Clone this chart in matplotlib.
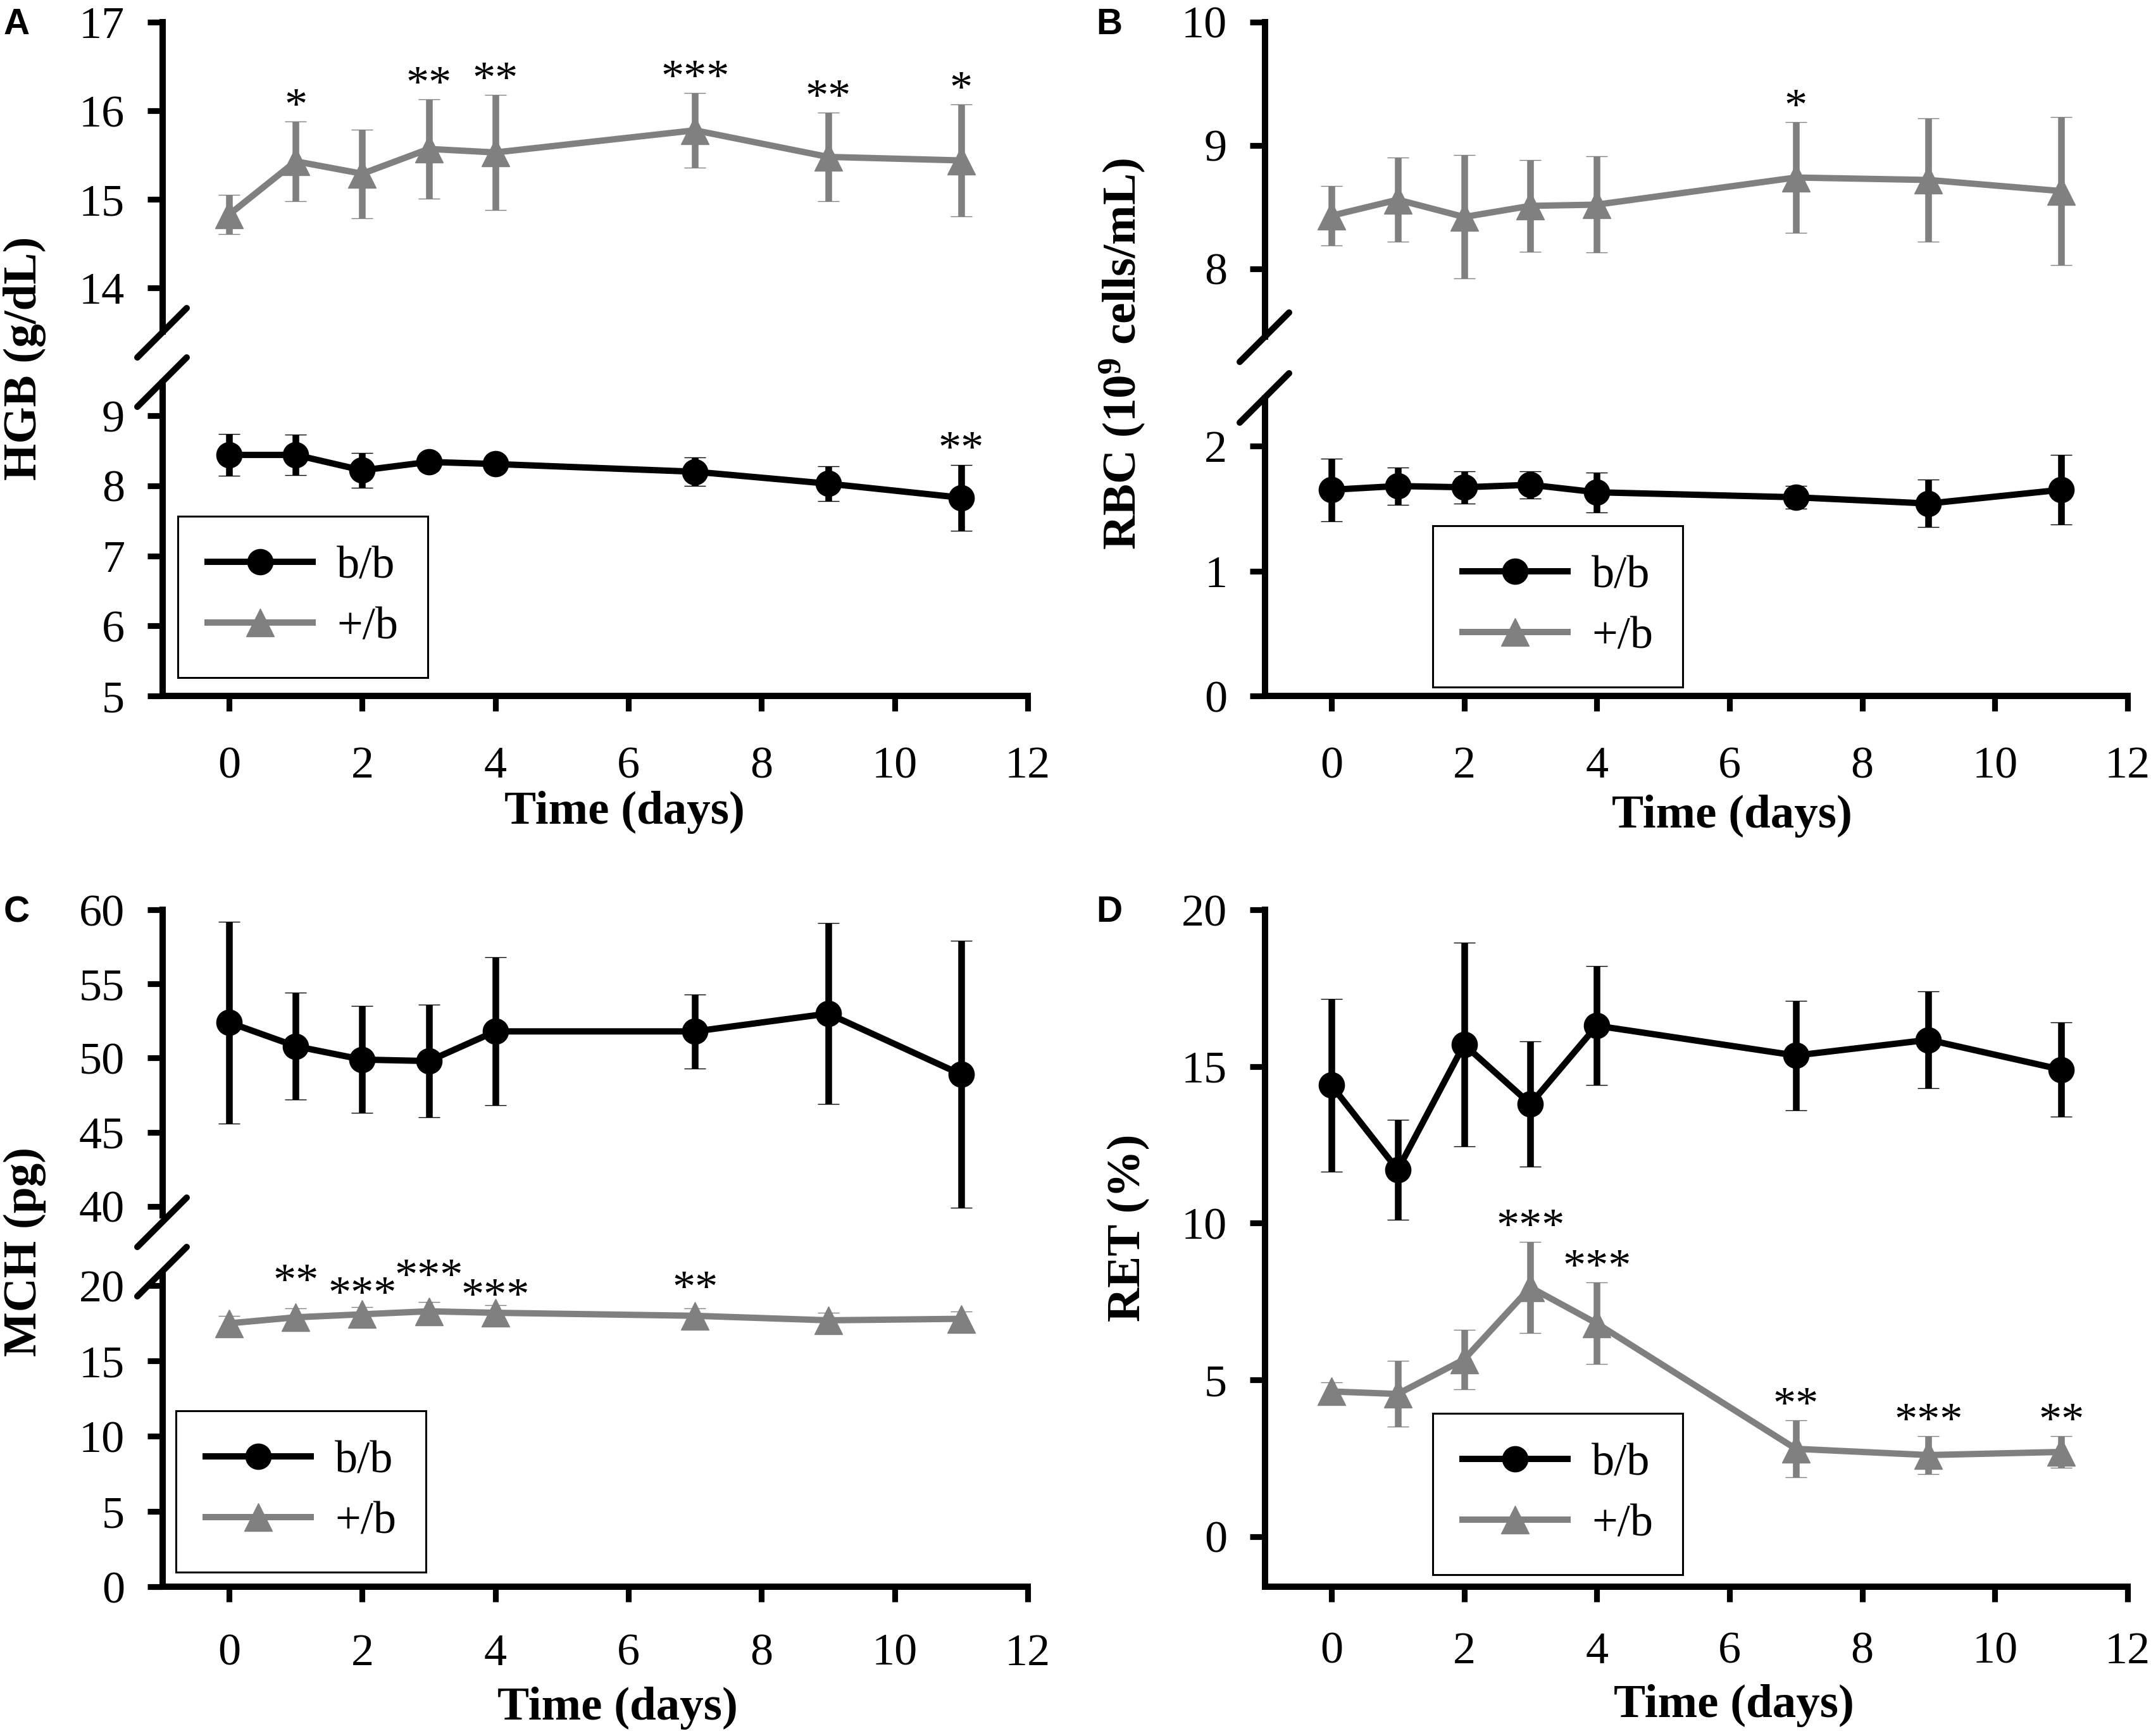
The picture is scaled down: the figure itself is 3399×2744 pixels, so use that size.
import matplotlib
matplotlib.use("Agg")
import matplotlib.pyplot as plt
from matplotlib.lines import Line2D

# ---------------- data ----------------
days = [0, 1, 2, 3, 4, 7, 9, 11]

hgb_bb = [8.44, 8.44, 8.22, 8.34, 8.31, 8.20, 8.03, 7.83]
hgb_bb_sd = [0.30, 0.29, 0.25, 0.05, 0.07, 0.20, 0.25, 0.47]
hgb_pb = [14.83, 15.43, 15.29, 15.57, 15.53, 15.78, 15.48, 15.44]
hgb_pb_sd = [0.22, 0.45, 0.50, 0.56, 0.65, 0.42, 0.50, 0.63]
hgb_bb_stars = ["", "", "", "", "", "", "", "**"]
hgb_pb_stars = ["", "*", "", "**", "**", "***", "**", "*"]

rbc_bb = [1.65, 1.68, 1.67, 1.69, 1.63, 1.59, 1.54, 1.65]
rbc_bb_sd = [0.25, 0.15, 0.13, 0.11, 0.16, 0.09, 0.19, 0.28]
rbc_pb = [8.43, 8.56, 8.42, 8.51, 8.52, 8.74, 8.72, 8.63]
rbc_pb_sd = [0.24, 0.34, 0.50, 0.37, 0.39, 0.45, 0.50, 0.60]
rbc_bb_stars = ["", "", "", "", "", "", "", ""]
rbc_pb_stars = ["", "", "", "", "", "*", "", ""]

mch_bb = [52.4, 50.8, 49.9, 49.8, 51.8, 51.8, 53.0, 48.9]
mch_bb_sd = [6.8, 3.6, 3.6, 3.8, 5.0, 2.5, 6.1, 9.0]
mch_pb = [17.5, 17.9, 18.1, 18.3, 18.2, 18.0, 17.7, 17.8]
mch_pb_sd = [0.5, 0.6, 0.5, 0.6, 0.5, 0.5, 0.5, 0.5]
mch_bb_stars = ["", "", "", "", "", "", "", ""]
mch_pb_stars = ["", "**", "***", "***", "***", "**", "", ""]

ret_bb = [14.4, 11.7, 15.7, 13.8, 16.3, 15.35, 15.85, 14.9]
ret_bb_sd = [2.75, 1.6, 3.25, 2.0, 1.9, 1.75, 1.55, 1.5]
ret_pb = [4.63, 4.55, 5.65, 7.95, 6.8, 2.8, 2.6, 2.7]
ret_pb_sd = [0.3, 1.05, 0.95, 1.45, 1.3, 0.9, 0.6, 0.5]
ret_bb_stars = ["", "", "", "", "", "", "", ""]
ret_pb_stars = ["", "", "", "***", "***", "**", "***", "**"]

series_labels = ["b/b", "+/b"]
xticks = [0, 2, 4, 6, 8, 10, 12]

# ---------------- style ----------------
plt.rcParams["font.family"] = ["Liberation Serif", "DejaVu Serif"]
plt.rcParams["mathtext.fontset"] = "custom"
plt.rcParams["mathtext.rm"] = "Liberation Serif:bold"
plt.rcParams["mathtext.bf"] = "Liberation Serif:bold"
plt.rcParams["mathtext.it"] = "Liberation Serif:bold"

W, H = 3399, 2744
DPI = 200
fig = plt.figure(figsize=(W / DPI, H / DPI), dpi=DPI)

BLACK = "#000000"
GREY = "#808080"
FS = 26
LW = 3.6
SPINE = 3.6
STAR_DY = [1.5] * 8                       # star offsets (points)
STAR_DY_C = [0, 8, 0, 7.5, -2, 4, 0, 0]    # panel C star offsets (points)


def rect(l, t, r, b):
    return [l / W, 1 - b / H, (r - l) / W, (b - t) / H]


def style_axis(ax, bottom, xpad):
    for s in ["top", "right"]:
        ax.spines[s].set_visible(False)
    ax.spines["left"].set_linewidth(SPINE)
    if bottom:
        ax.spines["bottom"].set_linewidth(SPINE)
        ax.set_xticks(xticks)
        ax.tick_params(axis="x", direction="out", length=8.5, width=3.3,
                       labelsize=FS, pad=xpad)
    else:
        ax.spines["bottom"].set_visible(False)
        ax.set_xticks([])
    ax.tick_params(axis="y", direction="out", length=8.5, width=3.3,
                   labelsize=FS, pad=13)
    ax.set_xlim(-1, 12)
    ax.set_facecolor("none")


def draw_series(ax, bb, bbsd, pb, pbsd):
    ax.errorbar(days, bb, yerr=bbsd, color=BLACK, marker="o", markersize=14.5,
                lw=LW, elinewidth=3.8, capsize=6, capthick=3.6,
                markeredgewidth=0.5, zorder=3)
    ax.errorbar(days, pb, yerr=pbsd, color=GREY, marker="^", markersize=15.5,
                lw=LW, elinewidth=3.8, capsize=6, capthick=3.6,
                markeredgewidth=0.5, zorder=3)


def draw_stars(ax, vals, sds, stars, dys):
    for x, v, s, st, dy in zip(days, vals, sds, stars, dys):
        if st:
            ax.annotate(st, (x, v + s), xytext=(0, dy), textcoords="offset points",
                        ha="center", va="baseline", fontsize=FS, clip_on=False)


def break_marks(xpx, ys):
    for y in ys:
        fig.add_artist(Line2D([(xpx - 39) / W, (xpx + 39) / W],
                              [1 - (y + 39) / H, 1 - (y - 39) / H],
                              transform=fig.transFigure, color=BLACK, lw=3.6,
                              solid_capstyle="round"))


def add_legend(ax, lpx, tpx):
    h = [Line2D([], [], color=BLACK, lw=LW, marker="o", markersize=14.5,
                markeredgewidth=0.5),
         Line2D([], [], color=GREY, lw=LW, marker="^", markersize=15.5,
                markeredgewidth=0.5)]
    leg = ax.legend(h, series_labels, loc="upper left",
                    bbox_to_anchor=(lpx / W, 1 - tpx / H),
                    bbox_transform=fig.transFigure, borderaxespad=0,
                    fontsize=FS, frameon=True, fancybox=False, framealpha=1,
                    edgecolor=BLACK, borderpad=0.65, handlelength=2.3,
                    handletextpad=0.53, labelspacing=0.42, numpoints=1)
    leg.get_frame().set_linewidth(1.1)
    leg.set_zorder(5)


def xlabel(xpx, ypx):
    fig.text(xpx / W, 1 - ypx / H, "Time (days)", ha="center", va="center",
             fontsize=27, fontweight="bold")


def ylabel(xpx, ypx, txt):
    fig.text(xpx / W, 1 - ypx / H, txt, ha="center", va="center",
             rotation=90, fontsize=27, fontweight="bold")


def letter(xpx, ypx, txt):
    fig.text(xpx / W, 1 - ypx / H, txt, ha="center", va="center",
             fontsize=20.5, fontweight="bold", family="Liberation Sans")


# ---------------- Panel A ----------------
axA1 = fig.add_axes(rect(257, 35, 1624, 524))
axA2 = fig.add_axes(rect(257, 605, 1624, 1100))
for ax, bot in [(axA1, False), (axA2, True)]:
    style_axis(ax, bot, 20)
    draw_series(ax, hgb_bb, hgb_bb_sd, hgb_pb, hgb_pb_sd)
axA1.set_ylim(13.51, 17)
axA1.set_yticks([14, 15, 16, 17])
axA2.set_ylim(5, 9.47)
axA2.set_yticks([5, 6, 7, 8, 9])
draw_stars(axA1, hgb_pb, hgb_pb_sd, hgb_pb_stars, STAR_DY)
draw_stars(axA2, hgb_bb, hgb_bb_sd, hgb_bb_stars, STAR_DY)
break_marks(256, [526, 604])
add_legend(axA2, 281, 816)
xlabel(987, 1284)
ylabel(39, 566, "HGB (g/dL)")
letter(26, 39, "A")

# ---------------- Panel B ----------------
axB1 = fig.add_axes(rect(1999, 35, 3362, 532))
axB2 = fig.add_axes(rect(1999, 630, 3362, 1100))
for ax, bot in [(axB1, False), (axB2, True)]:
    style_axis(ax, bot, 20)
    draw_series(ax, rbc_bb, rbc_bb_sd, rbc_pb, rbc_pb_sd)
axB1.set_ylim(7.45, 10)
axB1.set_yticks([8, 9, 10])
axB2.set_ylim(0, 2.38)
axB2.set_yticks([0, 1, 2])
draw_stars(axB1, rbc_pb, rbc_pb_sd, rbc_pb_stars, STAR_DY)
break_marks(1998, [533, 629])
add_legend(axB2, 2264, 831)
xlabel(2737, 1290)
ylabel(1774, 560, r"RBC (10$^{\mathbf{9}}$ cells/mL)")
letter(1753, 39, "B")

# ---------------- Panel C ----------------
axC1 = fig.add_axes(rect(257, 1438, 1624, 1921))
axC2 = fig.add_axes(rect(257, 2012, 1624, 2508))
for ax, bot in [(axC1, False), (axC2, True)]:
    style_axis(ax, bot, 18)
    draw_series(ax, mch_bb, mch_bb_sd, mch_pb, mch_pb_sd)
axC1.set_ylim(39.4, 60)
axC1.set_yticks([40, 45, 50, 55, 60])
axC2.set_ylim(0, 20.85)
axC2.set_yticks([0, 5, 10, 15, 20])
draw_stars(axC2, mch_pb, mch_pb_sd, mch_pb_stars, STAR_DY_C)
break_marks(256, [1932, 2010])
add_legend(axC2, 278, 2230)
xlabel(976, 2700)
ylabel(39, 1978, "MCH (pg)")
letter(26, 1442, "C")

# ---------------- Panel D ----------------
axD = fig.add_axes(rect(1999, 1438, 3362, 2508))
style_axis(axD, True, 17)
draw_series(axD, ret_bb, ret_bb_sd, ret_pb, ret_pb_sd)
axD.set_ylim(-1.6, 20)
axD.set_yticks([0, 5, 10, 15, 20])
draw_stars(axD, ret_pb, ret_pb_sd, ret_pb_stars, STAR_DY)
add_legend(axD, 2264, 2234)
xlabel(2740, 2696)
ylabel(1783, 1941, "RET (%)")
letter(1753, 1442, "D")

fig.savefig("out.png", dpi=DPI)
